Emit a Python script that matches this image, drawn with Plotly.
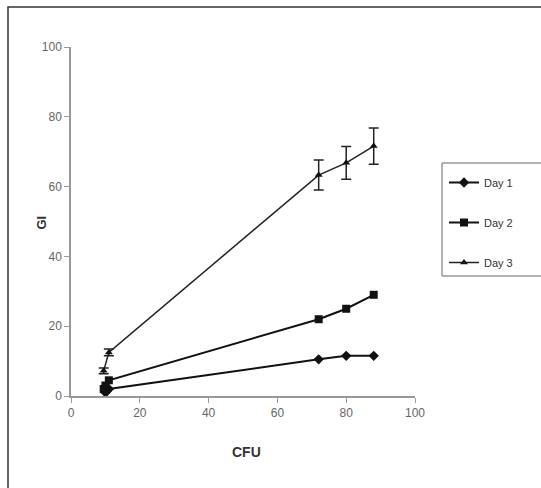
import plotly.graph_objects as go

# Data
day1_x = [10, 10.5, 11, 72, 80, 88]
day1_y = [1, 1.5, 2, 10.5, 11.5, 11.5]

day2_x = [9.5, 10, 11, 72, 80, 88]
day2_y = [2, 3, 4.5, 22, 25, 29]

day3_x = [9.5, 11, 72, 80, 88]
day3_y = [7.2, 12.5, 63.3, 66.8, 71.6]
day3_err = [0.8, 1.0, 4.3, 4.7, 5.2]

x_ticks = [0, 20, 40, 60, 80, 100]
y_ticks = [0, 20, 40, 60, 80, 100]

W, H = 541, 488
L, R, T, B = 71, 126, 47, 92

fig = go.Figure()
fig.add_trace(go.Scatter(
    x=day1_x, y=day1_y, name="Day 1", mode="lines+markers", legendgroup="a",
    line=dict(color="#111", width=2),
    marker=dict(symbol="diamond", size=8, color="#111"),
))
fig.add_trace(go.Scatter(
    x=day2_x, y=day2_y, name="Day 2", mode="lines+markers", legendgroup="b",
    line=dict(color="#111", width=2),
    marker=dict(symbol="square", size=8, color="#111"),
))
fig.add_trace(go.Scatter(
    x=day3_x, y=day3_y, name="Day 3", mode="lines+markers", legendgroup="c",
    line=dict(color="#222", width=1.5),
    marker=dict(symbol="triangle-up", size=7, color="#111"),
    error_y=dict(type="data", array=day3_err, visible=True, color="#222",
                 thickness=1.5, width=5),
))

axis_common = dict(
    showgrid=False, zeroline=False, showline=True, linecolor="#999",
    linewidth=1.5, ticks="outside", ticklen=5, tickcolor="#999",
    tickfont=dict(family="Liberation Sans, Arial", size=12, color="#666"),
    fixedrange=True,
)
fig.update_xaxes(range=[0, 100], tickvals=x_ticks, **axis_common)
fig.update_yaxes(range=[0, 100], tickvals=y_ticks, **axis_common)

# legend frame (right side clipped, as in reference)
lx0 = 442
ly0, ly1 = 163, 276
for (xa, ya, xb, yb) in [(lx0, ly0, W, ly0), (lx0, ly0, lx0, ly1), (lx0, ly1, W, ly1)]:
    fig.add_shape(type="line", xref="paper", yref="paper",
                  x0=(xa - L) / (W - L - R), x1=(xb - L) / (W - L - R),
                  y0=1 - (ya - T) / (H - T - B), y1=1 - (yb - T) / (H - T - B),
                  line=dict(color="#999", width=1.5))

# outer frame
fig.add_shape(type="rect", xref="paper", yref="paper",
              x0=(8 - L) / (W - L - R), x1=(W + 10 - L) / (W - L - R),
              y0=1 - (H + 10 - T) / (H - T - B), y1=1 - (7 - T) / (H - T - B),
              line=dict(color="#333", width=1.5))

fig.add_annotation(text="<b>GI</b>", xref="paper", yref="paper",
                   x=(31 - L) / (W - L - R), y=1 - (223 - T) / (H - T - B),
                   textangle=-90, showarrow=False,
                   font=dict(family="Liberation Sans, Arial", size=13, color="#333"))
fig.add_annotation(text="<b>CFU</b>", xref="paper", yref="paper",
                   x=(246 - L) / (W - L - R), y=1 - (462 - T) / (H - T - B),
                   showarrow=False,
                   font=dict(family="Liberation Sans, Arial", size=14, color="#333"))

fig.update_layout(
    width=W, height=H,
    margin=dict(l=L, r=R, t=T, b=B),
    paper_bgcolor="white", plot_bgcolor="white",
    showlegend=True,
    legend=dict(
        x=(444 - L) / (W - L - R), xanchor="left",
        y=1 - (168 - T) / (H - T - B), yanchor="top",
        bgcolor="rgba(0,0,0,0)", borderwidth=0,
        font=dict(family="Liberation Sans, Arial", size=11, color="#333"),
        itemwidth=30, tracegroupgap=21, traceorder="grouped",
    ),
)

fig.write_html("out.html")
